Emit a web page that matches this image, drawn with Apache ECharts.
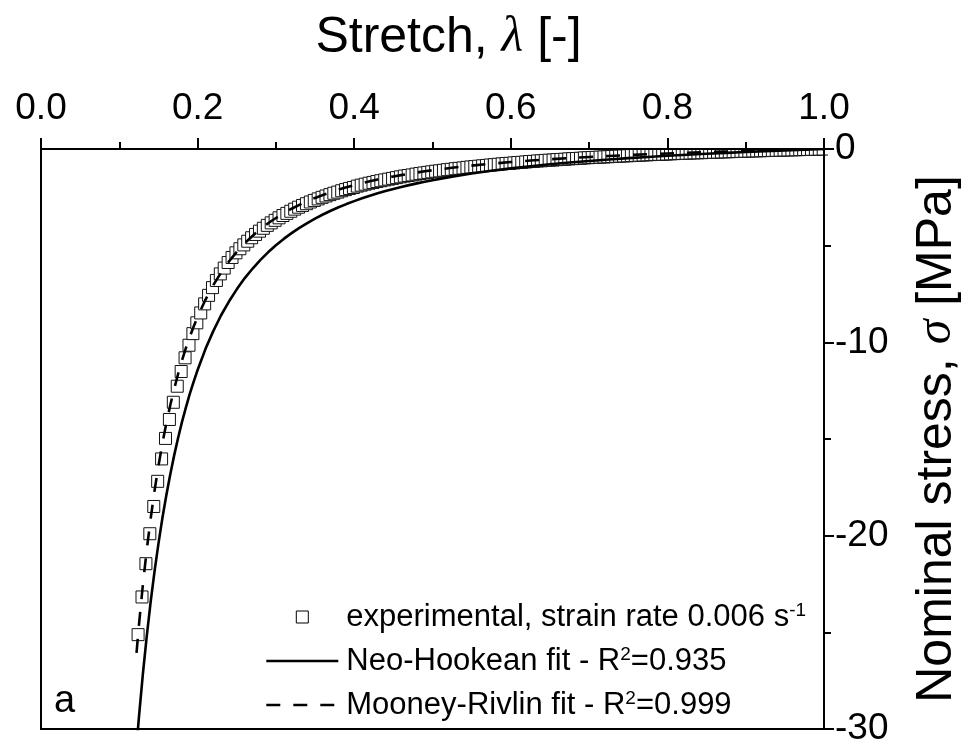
<!DOCTYPE html>
<html><head><meta charset="utf-8">
<script src="https://cdn.jsdelivr.net/npm/echarts@6/dist/echarts.min.js"></script>
<style>html,body{margin:0;padding:0;background:#fff}#c{width:970px;height:754px}</style>
</head><body><div id="c"></div>
<script>
// ---- data ----
const lambdaExp = [
0.124,0.129,0.134,0.139,0.144,0.149,0.154,0.159,0.164,0.169,
0.174,0.179,0.184,0.189,0.194,0.199,0.204,0.209,0.214,0.219,
0.224,0.229,0.234,0.239,0.244,0.249,0.254,0.259,0.264,0.269,
0.274,0.279,0.284,0.289,0.294,0.299,0.304,0.309,0.314,0.319,
0.324,0.329,0.334,0.339,0.344,0.349,0.354,0.359,0.364,0.369,
0.374,0.379,0.384,0.389,0.394,0.399,0.404,0.409,0.414,0.419,
0.424,0.429,0.434,0.439,0.444,0.449,0.454,0.459,0.464,0.469,
0.474,0.479,0.484,0.489,0.494,0.499,0.504,0.509,0.514,0.519,
0.524,0.529,0.534,0.539,0.544,0.549,0.554,0.559,0.564,0.569,
0.574,0.579,0.584,0.589,0.594,0.599,0.604,0.609,0.614,0.619,
0.624,0.629,0.634,0.639,0.644,0.649,0.654,0.659,0.664,0.669,
0.674,0.679,0.684,0.689,0.694,0.699,0.704,0.709,0.714,0.719,
0.724,0.729,0.734,0.739,0.744,0.749,0.754,0.759,0.764,0.769,
0.774,0.779,0.784,0.789,0.794,0.799,0.804,0.809,0.814,0.819,
0.824,0.829,0.834,0.839,0.844,0.849,0.854,0.859,0.864,0.869,
0.874,0.879,0.884,0.889,0.894,0.899,0.904,0.909,0.914,0.919,
0.924,0.929,0.934,0.939,0.944,0.949,0.954,0.959,0.964,0.969,
0.974,0.979,0.984,0.989,0.994,0.999];
const stressExp = [
-25.12,-23.17,-21.45,-19.90,-18.49,-17.19,-16.03,-14.97,-13.99,-13.10,
-12.27,-11.51,-10.80,-10.15,-9.55,-8.99,-8.48,-8.01,-7.57,-7.17,
-6.80,-6.46,-6.16,-5.87,-5.61,-5.37,-5.16,-4.96,-4.77,-4.59,
-4.42,-4.25,-4.10,-3.95,-3.82,-3.69,-3.56,-3.44,-3.33,-3.22,
-3.11,-3.01,-2.92,-2.83,-2.74,-2.66,-2.58,-2.50,-2.43,-2.36,
-2.29,-2.23,-2.16,-2.10,-2.04,-1.99,-1.92,-1.87,-1.82,-1.77,
-1.73,-1.68,-1.64,-1.60,-1.56,-1.52,-1.48,-1.44,-1.40,-1.37,
-1.34,-1.30,-1.27,-1.24,-1.21,-1.18,-1.15,-1.13,-1.10,-1.07,
-1.05,-1.02,-1.00,-0.98,-0.95,-0.93,-0.91,-0.89,-0.87,-0.85,
-0.83,-0.81,-0.79,-0.77,-0.75,-0.74,-0.72,-0.70,-0.69,-0.67,
-0.65,-0.64,-0.62,-0.61,-0.59,-0.58,-0.57,-0.55,-0.54,-0.53,
-0.51,-0.50,-0.49,-0.48,-0.46,-0.45,-0.44,-0.43,-0.42,-0.41,
-0.40,-0.39,-0.38,-0.37,-0.36,-0.35,-0.34,-0.33,-0.32,-0.31,
-0.30,-0.29,-0.28,-0.275,-0.27,-0.26,-0.25,-0.24,-0.23,-0.226,
-0.22,-0.21,-0.20,-0.196,-0.19,-0.18,-0.174,-0.167,-0.16,-0.153,
-0.146,-0.14,-0.133,-0.126,-0.12,-0.114,-0.107,-0.10,-0.095,-0.089,
-0.083,-0.077,-0.071,-0.066,-0.06,-0.054,-0.049,-0.043,-0.038,-0.032,
-0.027,-0.022,-0.016,-0.011,-0.006,-0.001];
const lambdaFit = [
0.122,0.125,0.13,0.135,0.14,0.145,0.15,0.155,0.16,0.165,0.17,0.175,0.18,0.185,0.19,0.195,
0.2,0.21,0.22,0.23,0.24,0.25,0.26,0.27,0.28,0.29,0.3,0.31,0.32,0.33,0.34,0.35,0.36,0.37,0.38,0.39,
0.4,0.41,0.42,0.43,0.44,0.45,0.46,0.47,0.48,0.49,0.5,
0.525,0.55,0.575,0.6,0.625,0.65,0.675,0.7,0.725,0.75,0.775,0.8,0.825,0.85,0.875,0.9,0.925,0.95,0.975,1.0];
const neoHookean = [
-30.89,-29.43,-27.20,-25.22,-23.44,-21.85,-20.41,-19.10,-17.92,-16.85,-15.86,-14.96,-14.13,-13.38,-12.67,-12.03,
-11.43,-10.35,-9.42,-8.60,-7.89,-7.26,-6.69,-6.195,-5.75,-5.345,-4.98,-4.651,-4.352,-4.079,-3.829,-3.600,-3.389,-3.195,-3.015,-2.849,
-2.695,-2.552,-2.418,-2.293,-2.177,-2.068,-1.965,-1.869,-1.778,-1.693,-1.612,
-1.430,-1.270,-1.129,-1.003,-0.891,-0.791,-0.700,-0.618,-0.542,-0.474,-0.410,-0.351,-0.297,-0.246,-0.199,-0.154,-0.112,-0.073,-0.035,0];
const mooneyRivlin = [
-26.06,-24.67,-22.58,-20.75,-19.13,-17.68,-16.39,-15.24,-14.20,-13.27,-12.42,-11.65,-10.94,-10.30,-9.72,-9.18,
-8.68,-7.80,-7.04,-6.39,-5.82,-5.32,-4.88,-4.50,-4.15,-3.84,-3.57,-3.32,-3.09,-2.89,-2.70,-2.53,-2.38,-2.24,-2.10,-1.98,
-1.87,-1.77,-1.67,-1.58,-1.50,-1.42,-1.35,-1.28,-1.215,-1.155,-1.10,
-0.97,-0.86,-0.761,-0.675,-0.598,-0.529,-0.468,-0.412,-0.361,-0.315,-0.272,-0.232,-0.196,-0.162,-0.131,-0.102,-0.074,-0.048,-0.023,0];

const seriesNames = ['experimental', 'neoHookean', 'mooneyRivlin'];
const legendLabels = {
  experimental: 'experimental, strain rate 0.006 s{sup|-1}',
  neoHookean: 'Neo-Hookean fit - R{sup|2}=0.935',
  mooneyRivlin: 'Mooney-Rivlin fit - R{sup|2}=0.999'
};
const xAxisTitle = 'Stretch, {i|λ} [-]';
const yAxisTitle = 'Nominal stress, {i|σ} [MPa]';
const panelLabel = 'a';

// ---- layout ----
const W = 970, H = 754;
const G = {left: 41, right: 143, top: 149, bottom: 25};
const FONT = 'Liberation Sans, Arial, sans-serif';
const SERIF = 'Liberation Serif, Times New Roman, serif';
// legend icon: 12px square centred in a 72x14 box
const SQUARE_ICON = 'path://M0,0M72,14M30,1L42,1L42,13L30,13Z';

const expData = lambdaExp.map((x, i) => [x, stressExp[i]]);
const nhData = lambdaFit.map((x, i) => [x, neoHookean[i]]);
const mrData = lambdaFit.map((x, i) => [x, mooneyRivlin[i]]);

const chart = echarts.init(document.getElementById('c'), null, {renderer: 'canvas'});
const axisCommon = {
  type: 'value', z: 10,
  axisLine: {show: true, onZero: false, lineStyle: {color: '#000', width: 2}},
  axisTick: {show: true, inside: false, lineStyle: {color: '#000', width: 2}},
  minorTick: {show: true, splitNumber: 2, lineStyle: {color: '#000', width: 2}},
  splitLine: {show: false}, minorSplitLine: {show: false}
};
chart.setOption({
  animation: false,
  backgroundColor: '#fff',
  grid: {left: G.left, right: G.right, top: G.top, bottom: G.bottom, show: true, borderColor: '#000', borderWidth: 2},
  title: {text: panelLabel, left: 54, top: 683, padding: 0,
    textStyle: {fontSize: 38, fontWeight: 'normal', color: '#000', fontFamily: FONT}},
  xAxis: Object.assign({}, axisCommon, {
    position: 'top', min: 0, max: 1, interval: 0.2,
    axisTick: Object.assign({}, axisCommon.axisTick, {length: 11}),
    minorTick: Object.assign({}, axisCommon.minorTick, {length: 7}),
    axisLabel: {fontSize: 37, color: '#000', margin: 22, fontFamily: FONT, formatter: v => v.toFixed(1)},
    name: xAxisTitle, nameLocation: 'middle', nameGap: 86,
    nameTextStyle: {fontSize: 50, color: '#000', fontFamily: FONT, padding: [0, 0, 0, 32],
      rich: {i: {fontSize: 50, fontStyle: 'italic', fontFamily: SERIF, color: '#000'}}}
  }),
  yAxis: Object.assign({}, axisCommon, {
    position: 'right', min: -30, max: 0, interval: 10,
    axisTick: Object.assign({}, axisCommon.axisTick, {length: 10}),
    minorTick: Object.assign({}, axisCommon.minorTick, {length: 7}),
    axisLabel: {fontSize: 37, color: '#000', margin: 11, fontFamily: FONT},
    name: yAxisTitle, nameLocation: 'middle', nameGap: 88,
    nameTextStyle: {fontSize: 50, color: '#000', fontFamily: FONT,
      rich: {i: {fontSize: 50, fontStyle: 'italic', fontFamily: SERIF, color: '#000'}}}
  }),
  legend: {
    orient: 'vertical', left: 265, top: 601, padding: 0,
    itemWidth: 72, itemHeight: 14, itemGap: 12, selectedMode: false,
    lineStyle: {width: 2.6},
    data: [
      {name: seriesNames[0], icon: SQUARE_ICON, itemStyle: {color: '#fff', borderColor: '#000', borderWidth: 1}},
      {name: seriesNames[1], itemStyle: {color: 'transparent', borderColor: 'transparent', borderWidth: 0}},
      {name: seriesNames[2], itemStyle: {color: 'transparent', borderColor: 'transparent', borderWidth: 0}}
    ],
    formatter: n => legendLabels[n],
    textStyle: {fontSize: 31, color: '#000', fontFamily: FONT, lineHeight: 32, padding: [0, 0, 0, 3],
      rich: {sup: {fontSize: 19, lineHeight: 19, verticalAlign: 'top', color: '#000', fontFamily: FONT}}}
  },
  graphic: [
    {type: 'rect', z: 5, silent: true, shape: {x: 0, y: 0, width: W, height: G.top - 1}, style: {fill: '#fff'}},
    {type: 'rect', z: 5, silent: true, shape: {x: W - G.right + 1, y: 0, width: G.right, height: H}, style: {fill: '#fff'}}
  ],
  series: [
    {name: seriesNames[0], type: 'scatter', symbol: 'rect', symbolSize: 12, data: expData,
      itemStyle: {color: '#fff', borderColor: '#111', borderWidth: 1, opacity: 1}, z: 2},
    {name: seriesNames[1], type: 'line', data: nhData, symbol: 'none', smooth: false,
      itemStyle: {color: 'transparent'}, lineStyle: {color: '#000', width: 2.6, type: 'solid'}, z: 3},
    {name: seriesNames[2], type: 'line', data: mrData, symbol: 'none', smooth: false,
      itemStyle: {color: 'transparent'}, lineStyle: {color: '#000', width: 2.6, type: [14, 13]}, z: 3}
  ]
});
</script></body></html>
